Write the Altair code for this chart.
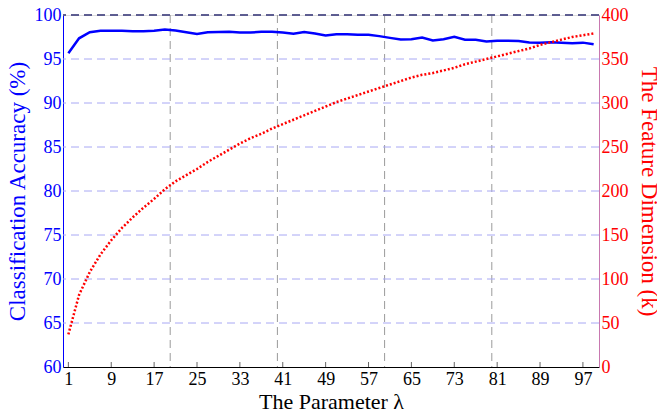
import altair as alt
import pandas as pd

# Parameter lambda (odd values)
lam = list(range(1, 100, 2))

# Classification accuracy (%) - left axis
accuracy = [95.65, 97.35, 98.05, 98.20, 98.22, 98.20, 98.15, 98.15, 98.22, 98.35,
            98.25, 98.05, 97.85, 98.05, 98.07, 98.10, 98.00, 98.00, 98.10, 98.10,
            98.00, 97.88, 98.07, 97.90, 97.68, 97.82, 97.82, 97.75, 97.75, 97.60,
            97.40, 97.22, 97.25, 97.43, 97.10, 97.25, 97.52, 97.20, 97.18, 97.00,
            97.08, 97.08, 97.05, 96.88, 96.85, 96.90, 96.85, 96.78, 96.86, 96.67]

# Feature dimension (k) - right axis
dimension = [37, 82, 108, 128, 144, 158, 170, 181, 191, 202,
             211, 218, 225, 233, 240, 247, 254, 260, 265, 271,
             276, 281, 286, 291, 296, 301, 305, 309, 313, 317,
             321, 325, 329, 332, 334, 337, 340, 344, 347, 350,
             353, 356, 359, 362, 366, 369, 372, 375, 377, 379]

x_ticks = list(range(1, 100, 8))
left_ticks = list(range(60, 101, 5))
hgrid = list(range(65, 100, 5))
right_ticks = list(range(0, 401, 50))
vgrid = [20, 40, 60, 80]

W, H = 536, 352
FONT = "Liberation Serif"
BLUE = "#0000ff"
RED = "#ff0000"

df = pd.DataFrame({"lam": lam, "acc": accuracy, "dim": dimension})
vg = pd.DataFrame({"v": vgrid})
hg = pd.DataFrame({"h": hgrid})
tk = pd.DataFrame({"t": x_ticks})

xscale = alt.Scale(domain=[0, 100], nice=False, zero=False)
yleft = alt.Scale(domain=[60, 100], nice=False, zero=False)

x_axis = alt.Axis(values=x_ticks, title="The Parameter λ", grid=False, tickSize=0,
                  labelFontSize=18, titleFontSize=22, labelPadding=3, titlePadding=3,
                  domainColor="#000000", labelColor="#000000", titleColor="#000000",
                  titleFontWeight="normal", labelFont=FONT, titleFont=FONT)

left_axis = alt.Axis(orient="left", values=left_ticks, title="Classification Accuracy (%)",
                     grid=False, tickSize=0, labelFontSize=18, titleFontSize=23, labelPadding=2,
                     titlePadding=5, labelColor=BLUE, titleColor=BLUE, domainColor=BLUE,
                     titleFontWeight="normal", labelFont=FONT, titleFont=FONT)

vrules = alt.Chart(vg).mark_rule(color="#9a9a9a", strokeDash=[8, 5], strokeWidth=1).encode(
    x=alt.X("v:Q", scale=xscale, axis=x_axis))

toprule = alt.Chart(vg).mark_rule(color="#55558a", strokeDash=[8, 5], strokeWidth=1).encode(
    y=alt.value(0))

ticks = alt.Chart(tk).mark_rule(color="#666666", strokeWidth=1).encode(
    x=alt.X("t:Q", scale=xscale, axis=x_axis), y=alt.value(H), y2=alt.value(H - 5))

hrules = alt.Chart(hg).mark_rule(color="#a8a8f4", strokeDash=[8, 5], strokeWidth=1).encode(
    y=alt.Y("h:Q", scale=yleft, axis=left_axis))

blue_line = alt.Chart(df).mark_line(color=BLUE, strokeWidth=2.5).encode(
    x=alt.X("lam:Q", scale=xscale, axis=x_axis),
    y=alt.Y("acc:Q", scale=yleft, axis=left_axis))

blue = alt.layer(hrules, blue_line)

red = alt.Chart(df).mark_line(color=RED, strokeWidth=2.5, strokeDash=[2, 2]).encode(
    x=alt.X("lam:Q", scale=xscale, axis=x_axis),
    y=alt.Y("dim:Q", scale=alt.Scale(domain=[0, 400], nice=False, zero=False),
            axis=alt.Axis(orient="right", values=right_ticks, title="The Feature Dimension (k)",
                          grid=False, tickSize=0, labelFontSize=18, titleFontSize=23,
                          labelPadding=2, titlePadding=8, labelColor=RED, titleColor=RED,
                          domainColor="#c878b0", titleFontWeight="normal",
                          labelFont=FONT, titleFont=FONT)))

chart = alt.layer(vrules, toprule, ticks, blue, red).resolve_scale(
    y="independent"
).properties(
    width=W, height=H,
    autosize=alt.AutoSizeParams(type="none"),
    padding={"left": 55, "top": 7, "right": 58, "bottom": 47},
).configure_view(stroke=None).configure(font=FONT)

chart.save("out.html", embed_options={"renderer": "svg", "actions": False})
